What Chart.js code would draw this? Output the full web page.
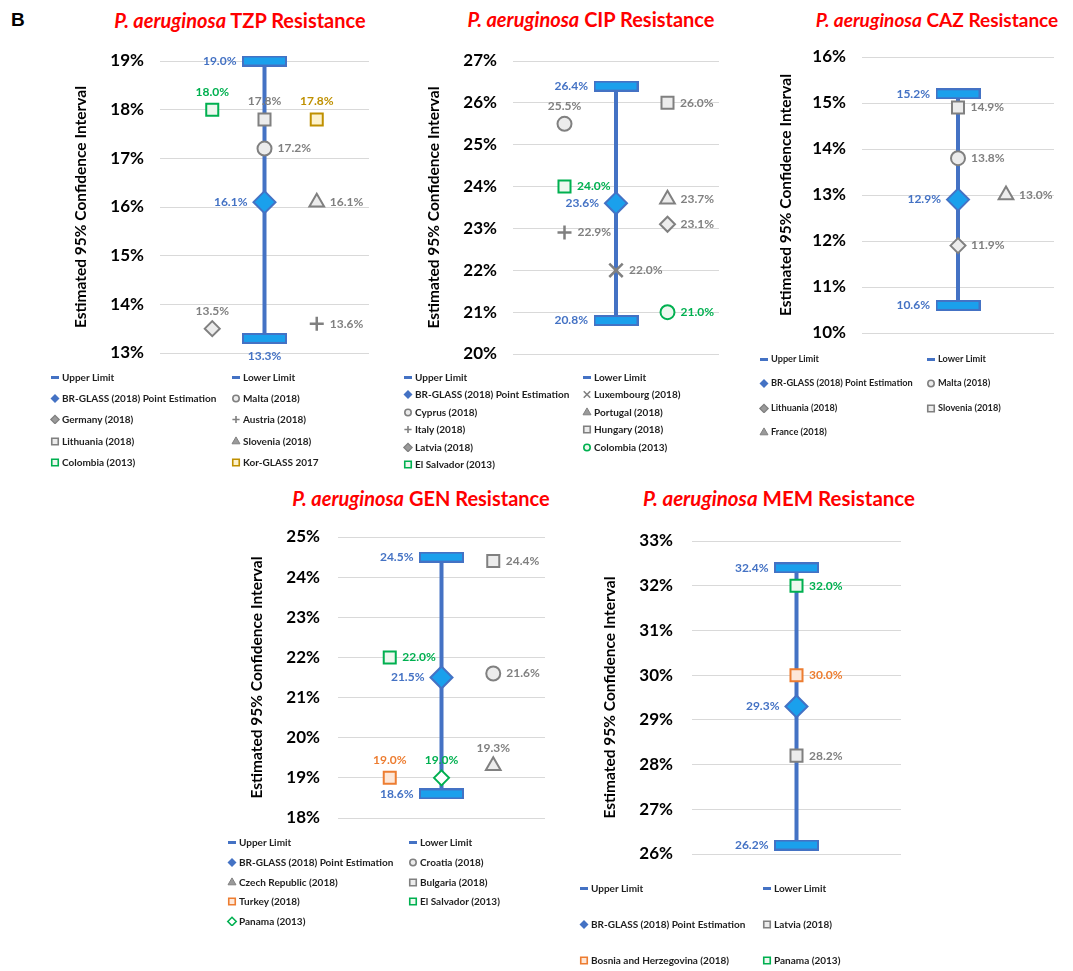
<!DOCTYPE html>
<html>
<head>
<meta charset="utf-8">
<script src="https://cdn.jsdelivr.net/npm/chart.js@4.4.1/dist/chart.umd.min.js"></script>
<style>
  html, body { margin: 0; padding: 0; background: #fff; overflow: hidden; }
  body { width: 1073px; height: 971px; position: relative; font-family: Lato, "Open Sans", sans-serif; }
  canvas.panel { position: absolute; }
  .tag { position: absolute; left: 11px; top: 9px; font: bold 19px "Liberation Sans", Arial, sans-serif; color: #000; }
  .title { position: absolute; transform: translate(-50%, -50%); white-space: nowrap; color: #ff0000; font-weight: bold; font-size: 20px; }
  .title i { font-style: italic; }
  .leg { position: absolute; white-space: nowrap; font-weight: bold; font-size: 10px; color: #1e1e1e; transform: translateY(-50%); line-height: 12px; }
  .leg canvas { position: absolute; left: -13px; top: 1px; }
</style>
</head>
<body>
<div class="tag">B</div>
<script>
// ---------- TZP ----------
const tzpSeries = ['Upper Limit', 'Lower Limit', 'BR-GLASS (2018) Point Estimation', 'Malta (2018)', 'Germany (2018)',
  'Austria (2018)', 'Lithuania (2018)', 'Slovenia (2018)', 'Colombia (2013)', 'Kor-GLASS 2017'];
const tzpX = [2, 2, 2, 2, 1, 3, 2, 3, 1, 3];
const tzpValues = [19.0, 13.3, 16.1, 17.2, 13.5, 13.6, 17.8, 16.1, 18.0, 17.8];
const tzpTicks = [13, 14, 15, 16, 17, 18, 19];

// ---------- CIP ----------
const cipSeries = ['Upper Limit', 'Lower Limit', 'BR-GLASS (2018) Point Estimation', 'Luxembourg (2018)', 'Cyprus (2018)',
  'Portugal (2018)', 'Italy (2018)', 'Hungary (2018)', 'Latvia (2018)', 'Colombia (2013)', 'El Salvador (2013)'];
const cipX = [2, 2, 2, 2, 1, 3, 1, 3, 3, 3, 1];
const cipValues = [26.4, 20.8, 23.6, 22.0, 25.5, 23.7, 22.9, 26.0, 23.1, 21.0, 24.0];
const cipTicks = [20, 21, 22, 23, 24, 25, 26, 27];

// ---------- CAZ ----------
const cazSeries = ['Upper Limit', 'Lower Limit', 'BR-GLASS (2018) Point Estimation', 'Malta (2018)', 'Lithuania (2018)',
  'Slovenia (2018)', 'France (2018)'];
const cazX = [2, 2, 2, 2, 2, 2, 3];
const cazValues = [15.2, 10.6, 12.9, 13.8, 11.9, 14.9, 13.0];
const cazTicks = [10, 11, 12, 13, 14, 15, 16];

// ---------- GEN ----------
const genSeries = ['Upper Limit', 'Lower Limit', 'BR-GLASS (2018) Point Estimation', 'Croatia (2018)', 'Czech Republic (2018)',
  'Bulgaria (2018)', 'Turkey (2018)', 'El Salvador (2013)', 'Panama (2013)'];
const genX = [2, 2, 2, 3, 3, 3, 1, 1, 2];
const genValues = [24.5, 18.6, 21.5, 21.6, 19.3, 24.4, 19.0, 22.0, 19.0];
const genTicks = [18, 19, 20, 21, 22, 23, 24, 25];

// ---------- MEM ----------
const memSeries = ['Upper Limit', 'Lower Limit', 'BR-GLASS (2018) Point Estimation', 'Latvia (2018)',
  'Bosnia and Herzegovina (2018)', 'Panama (2013)'];
const memX = [2, 2, 2, 2, 2, 2];
const memValues = [32.4, 26.2, 29.3, 28.2, 30.0, 32.0];
const memTicks = [26, 27, 28, 29, 30, 31, 32, 33];

// ---------- marker styling per series ----------
const tzpMarkers = ['bar', 'bar', 'estimate', 'circle', 'diamond', 'plus', 'square', 'triangle', 'square', 'square'];
const tzpTones   = ['blue', 'blue', 'blue', 'gray', 'gray', 'gray', 'gray', 'gray', 'green', 'gold'];
const tzpSides   = ['left', 'below', 'left', 'right', 'above', 'right', 'above', 'right', 'above', 'above'];

const cipMarkers = ['bar', 'bar', 'estimate', 'x', 'circle', 'triangle', 'plus', 'square', 'diamond', 'circle', 'square'];
const cipTones   = ['blue', 'blue', 'blue', 'gray', 'gray', 'gray', 'gray', 'gray', 'gray', 'green', 'green'];
const cipSides   = ['left', 'left', 'left', 'right', 'above', 'right', 'right', 'right', 'right', 'right', 'right'];

const cazMarkers = ['bar', 'bar', 'estimate', 'circle', 'diamond', 'square', 'triangle'];
const cazTones   = ['blue', 'blue', 'blue', 'gray', 'gray', 'gray', 'gray'];
const cazSides   = ['left', 'left', 'left', 'right', 'right', 'right', 'right'];

const genMarkers = ['bar', 'bar', 'estimate', 'circle', 'triangle', 'square', 'square', 'square', 'openDiamond'];
const genTones   = ['blue', 'blue', 'blue', 'gray', 'gray', 'gray', 'orange', 'green', 'green'];
const genSides   = ['left', 'left', 'left', 'right', 'above', 'right', 'above', 'right', 'above'];

const memMarkers = ['bar', 'bar', 'estimate', 'square', 'square', 'square'];
const memTones   = ['blue', 'blue', 'blue', 'gray', 'orange', 'green'];
const memSides   = ['left', 'left', 'left', 'right', 'right', 'right'];

const FONT = 'Lato, "Open Sans", sans-serif';
const AXIS_TITLE = 'Estimated 95% Confidence Interval';

const TONES = {
  blue:   { border: '#4472c4', fill: '#1aa0ec', text: '#4472c4' },
  gray:   { border: '#808080', fill: '#ececec', text: '#808080' },
  green:  { border: '#00b050', fill: '#eef8ef', text: '#00b050' },
  gold:   { border: '#bf9000', fill: '#fdf2cc', text: '#bf9000' },
  orange: { border: '#ed7d31', fill: '#fde7d8', text: '#ed7d31' }
};

// the wide capped bar used for the interval limits
function makeCapImage() {
  const c = document.createElement('canvas');
  c.width = 45; c.height = 11;
  const g = c.getContext('2d');
  g.fillStyle = '#1aa0ec';
  g.fillRect(1, 1, 43, 9);
  g.strokeStyle = '#4472c4';
  g.lineWidth = 2;
  g.strokeRect(1, 1, 43, 9);
  return c;
}
const CAP = makeCapImage();

// shape, radius and outline of each plotted marker; "half" is how far a side label sits from the centre
const MARKERS = {
  bar:         { style: CAP, r: 22, bw: 0, half: 22 },
  estimate:    { style: 'rectRot', r: 11, bw: 2, half: 11 },
  circle:      { style: 'circle', r: 7, bw: 2, half: 7 },
  square:      { style: 'rect', r: 8.5, bw: 2, half: 6.5 },
  diamond:     { style: 'rectRot', r: 7.5, bw: 2, half: 7 },
  openDiamond: { style: 'rectRot', r: 7.5, bw: 2, half: 7, fill: '#ffffff' },
  triangle:    { style: 'triangle', r: 8.5, bw: 2, half: 7 },
  plus:        { style: 'cross', r: 7, bw: 2.5, half: 7 },
  x:           { style: 'crossRot', r: 9.5, bw: 2.5, half: 7 }
};

// value labels written next to every marker
const valueLabels = {
  id: 'valueLabels',
  afterDatasetsDraw(chart) {
    const ctx = chart.ctx;
    chart.data.datasets.forEach((ds, di) => {
      if (!ds.labelSide) return;
      const meta = chart.getDatasetMeta(di);
      const m = MARKERS[ds.marker];
      meta.data.forEach((pt, i) => {
        const text = ds.data[i].y.toFixed(1) + '%';
        let x = pt.x, y = pt.y, align = 'center';
        if (ds.labelSide === 'left') { x -= m.half + 6; align = 'right'; }
        else if (ds.labelSide === 'right') { x += m.half + 6; align = 'left'; }
        else if (ds.labelSide === 'above') { y -= 18; }
        else if (ds.labelSide === 'below') { y += 18; }
        ctx.save();
        ctx.font = 'bold 12px ' + FONT;
        ctx.fillStyle = ds.labelColor;
        ctx.textAlign = align;
        ctx.textBaseline = 'middle';
        ctx.fillText(text, x, y);
        ctx.restore();
      });
    });
  }
};

// small legend icon, same shapes as the plot at reduced size
const LEGEND_MARKERS = {
  estimate: { style: 'rectRot', r: 4.5, bw: 0 },
  circle:   { style: 'circle', r: 3.2, bw: 1.6 },
  square:   { style: 'rect', r: 4.6, bw: 1.6 },
  diamond:  { style: 'rectRot', r: 4.2, bw: 1.2 },
  openDiamond: { style: 'rectRot', r: 4.2, bw: 1.6 },
  triangle: { style: 'triangle', r: 4.6, bw: 1 },
  plus:     { style: 'cross', r: 3.6, bw: 1.6 },
  x:        { style: 'crossRot', r: 4.6, bw: 1.6 }
};
function legendIcon(marker, tone) {
  const c = document.createElement('canvas');
  c.width = 12; c.height = 10;
  const g = c.getContext('2d');
  const t = TONES[tone];
  if (marker === 'bar') {
    g.fillStyle = '#4472c4';
    g.fillRect(2, 4, 8, 3);
    return c;
  }
  const spec = LEGEND_MARKERS[marker];
  g.strokeStyle = t.border;
  g.fillStyle = marker === 'estimate' ? '#4472c4' : (marker === 'triangle' || marker === 'diamond') ? '#9a9a9a' : t.fill;
  if (marker === 'openDiamond') g.fillStyle = '#ffffff';
  g.lineWidth = spec.bw;
  Chart.helpers.drawPoint(g, { pointStyle: spec.style, radius: spec.r, borderWidth: spec.bw, rotation: 0 }, 6, 5.5);
  return c;
}

const panels = [
  { name: 'TZP', series: tzpSeries, x: tzpX, values: tzpValues, ticks: tzpTicks,
    markers: tzpMarkers, tones: tzpTones, sides: tzpSides,
    area: { l: 160, r: 377, t: 61, b: 353 }, axisW: 91, tickPad: 16, titleAt: [240, 20], titleSize: 20,
    legend: { cols: [55, 236], y0: 377, dy: 21.2, size: 10 } },
  { name: 'CIP', series: cipSeries, x: cipX, values: cipValues, ticks: cipTicks,
    markers: cipMarkers, tones: cipTones, sides: cipSides,
    area: { l: 513, r: 727, t: 61, b: 354 }, axisW: 91, tickPad: 16, titleAt: [591, 19], titleSize: 20,
    legend: { cols: [408, 587], y0: 377, dy: 17.4, size: 10 } },
  { name: 'CAZ', series: cazSeries, x: cazX, values: cazValues, ticks: cazTicks,
    markers: cazMarkers, tones: cazTones, sides: cazSides,
    area: { l: 862, r: 1062, t: 57, b: 333 }, axisW: 88, tickPad: 16, titleAt: [937, 19], titleSize: 19,
    legend: { cols: [764, 931], y0: 359, dy: 24.4, size: 9.2 } },
  { name: 'GEN', series: genSeries, x: genX, values: genValues, ticks: genTicks,
    markers: genMarkers, tones: genTones, sides: genSides,
    area: { l: 338, r: 553, t: 537, b: 818 }, axisW: 93, tickPad: 18, titleAt: [421, 498], titleSize: 20,
    legend: { cols: [232, 413], y0: 842, dy: 19.8, size: 10 } },
  { name: 'MEM', series: memSeries, x: memX, values: memValues, ticks: memTicks,
    markers: memMarkers, tones: memTones, sides: memSides,
    area: { l: 692, r: 909, t: 541, b: 854 }, axisW: 94, tickPad: 19, titleAt: [779, 498], titleSize: 20.5,
    legend: { cols: [584, 767], y0: 888, dy: 36, size: 10 } }
];

function buildPanel(p) {
  // title
  const title = document.createElement('div');
  title.className = 'title';
  title.style.left = p.titleAt[0] + 'px';
  title.style.top = p.titleAt[1] + 'px';
  title.style.fontSize = p.titleSize + 'px';
  title.innerHTML = '<i>P. aeruginosa</i> ' + p.name + ' Resistance';
  document.body.appendChild(title);

  // chart canvas, sized so the plot area lands on p.area
  // (padding kept larger than the half tick label plus tick padding)
  const padTop = 32, padBottom = 32, padRight = 14;
  const left = p.area.l - p.axisW;
  const top = p.area.t - padTop;
  const w = p.area.r - left + padRight;
  const h = p.area.b - p.area.t + padTop + padBottom;
  const canvas = document.createElement('canvas');
  canvas.className = 'panel';
  canvas.width = w; canvas.height = h;
  canvas.style.left = left + 'px'; canvas.style.top = top + 'px';
  canvas.style.width = w + 'px'; canvas.style.height = h + 'px';
  document.body.appendChild(canvas);

  const datasets = p.series.map((name, i) => {
    const m = MARKERS[p.markers[i]];
    const t = TONES[p.tones[i]];
    return {
      label: name,
      data: [{ x: p.x[i], y: p.values[i] }],
      pointStyle: m.style,
      pointRadius: m.r,
      pointBorderWidth: m.bw,
      pointBorderColor: t.border,
      pointBackgroundColor: m.fill || t.fill,
      clip: false,
      order: i,
      marker: p.markers[i],
      labelSide: p.sides[i],
      labelColor: t.text
    };
  });
  // interval whisker between upper and lower limit
  datasets.push({
    type: 'line',
    label: 'interval',
    data: [{ x: p.x[0], y: p.values[0] }, { x: p.x[1], y: p.values[1] }],
    borderColor: '#4472c4',
    borderWidth: 4,
    pointRadius: 0,
    showLine: true,
    clip: false,
    order: 100
  });

  new Chart(canvas, {
    type: 'scatter',
    data: { datasets },
    plugins: [valueLabels],
    options: {
      responsive: false,
      animation: false,
      events: [],
      layout: { padding: { top: padTop, bottom: padBottom, right: padRight, left: 0 } },
      plugins: { legend: { display: false }, tooltip: { enabled: false }, title: { display: false } },
      scales: {
        x: { type: 'linear', min: 0, max: 4, display: false },
        y: {
          type: 'linear',
          min: p.ticks[0],
          max: p.ticks[p.ticks.length - 1],
          afterBuildTicks: s => { s.ticks = p.ticks.map(v => ({ value: v })); },
          afterFit: s => { s.width = p.axisW; },
          ticks: {
            callback: v => v + '%',
            color: '#000',
            padding: p.tickPad,
            font: { family: FONT, size: 17, weight: 'bold' }
          },
          grid: { color: '#d9d9d9', lineWidth: 1, drawTicks: false },
          border: { display: false },
          title: {
            display: true,
            text: AXIS_TITLE,
            color: '#000',
            padding: { top: 3, bottom: 0 },
            font: { family: FONT, size: 15.5, weight: 'bold' }
          }
        }
      }
    }
  });

  // two-column legend
  p.series.forEach((name, i) => {
    const col = i % 2, row = Math.floor(i / 2);
    const item = document.createElement('div');
    item.className = 'leg';
    item.style.fontSize = p.legend.size + 'px';
    item.style.left = (p.legend.cols[col] + 7) + 'px';
    item.style.top = (p.legend.y0 + row * p.legend.dy) + 'px';
    item.appendChild(legendIcon(p.markers[i], p.tones[i]));
    item.appendChild(document.createTextNode(name));
    document.body.appendChild(item);
  });
}

panels.forEach(buildPanel);
</script>
</body>
</html>
